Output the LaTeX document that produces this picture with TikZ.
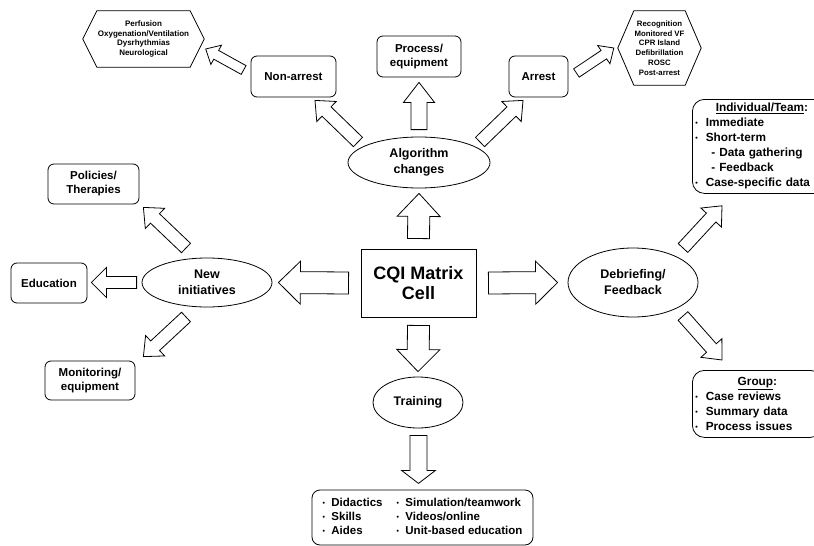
\documentclass[tikz,border=0pt]{standalone}
\usepackage{fontspec}
\usepackage{graphicx}
\setmainfont{Liberation Sans}
\usetikzlibrary{shapes.geometric,calc}

\newcommand{\fsz}[2]{\fontsize{#1}{#2}\selectfont\bfseries}
\newcommand{\bul}{\raisebox{0.2ex}{\scalebox{0.6}{\textbullet}}\ \ }
% hollow block arrow: tail, tip, shaft half width, head half width, head length
\newcommand{\blockarr}[5]{%
  \coordinate (hb) at ($(#2)!#5!(#1)$);
  \draw[blk] ($(#1)!#3!90:(#2)$) -- ($(hb)!#3!90:(#2)$) -- ($(hb)!#4!90:(#2)$) -- (#2)
    -- ($(hb)!#4!-90:(#2)$) -- ($(hb)!#3!-90:(#2)$) -- ($(#1)!#3!-90:(#2)$) -- cycle;
}

\begin{document}
\begin{tikzpicture}[x=1pt,y=-1pt,
  blk/.style={draw,fill=white,line width=0.8pt},
  cell/.style={draw,line width=0.9pt,inner sep=0pt,minimum width=115pt,minimum height=68pt,align=center,font=\fsz{18}{20}},
  oval/.style={ellipse,draw,line width=0.8pt,inner sep=0pt,align=center,font=\fsz{12.5}{16.5}},
  rbox/.style={draw,rounded corners=6pt,line width=0.8pt,inner sep=0pt,align=center,font=\fsz{11.5}{14}},
  lbox/.style={draw,rounded corners=12pt,line width=0.8pt,inner xsep=3pt,inner ysep=4pt,font=\fsz{11.8}{15}},
  hexnode/.style={inner sep=0pt,align=center,font=\fsz{8}{9.5}}]
\useasboundingbox (0,0) rectangle (814,546);

% centre and ovals
\node[cell] (cqi) at (418.5,283) {CQI Matrix\\Cell};
\node[oval,minimum width=142pt,minimum height=51pt] (alg) at (419,162.5) {Algorithm\\changes};
\node[oval,minimum width=130pt,minimum height=49pt] (newi) at (207,282.5) {New\\initiatives};
\node[oval,minimum width=130pt,minimum height=69pt,font=\fsz{12.5}{16}] (debr) at (633,282.5) {Debriefing/\\Feedback};
\node[oval,minimum width=90pt,minimum height=51pt] (trng) at (418,402.5) {Training};

% boxes
\node[rbox,minimum width=84pt,minimum height=41pt] (proc) at (419,56.5) {Process/\\equipment};
\node[rbox,minimum width=85pt,minimum height=41pt] (nonarr) at (293.5,76.5) {Non-arrest};
\node[rbox,minimum width=59pt,minimum height=41pt] (arr) at (538.5,76.5) {Arrest};
\node[rbox,minimum width=91pt,minimum height=40pt] (pol) at (93.5,184) {Policies/\\Therapies};
\node[rbox,minimum width=76pt,minimum height=40pt] (edu) at (49,283) {Education};
\node[rbox,minimum width=90pt,minimum height=39pt] (mon) at (90,380.5) {Monitoring/\\equipment};
\node[rbox,rounded corners=8pt,minimum width=221pt,minimum height=55pt] (tools) at (422.5,517.5)
  {\begin{tabular}{@{}p{74pt}@{}l@{}}
   \bul Didactics & \bul Simulation/teamwork\\
   \bul Skills & \bul Videos/online\\
   \bul Aides & \bul Unit-based education
   \end{tabular}};
\node[lbox,text width=133pt,minimum height=94pt,anchor=north west] (indv) at (692,99)
  {{\centering\underline{Individual/Team}:\par}\bul Immediate\\\bul Short-term\\
   \hspace*{16pt}- Data gathering\\\hspace*{16pt}- Feedback\\\bul Case-specific data};
\node[lbox,text width=124pt,minimum height=67pt,anchor=north west] (grp) at (692,370)
  {{\centering\underline{Group}:\par}\bul Case reviews\\\bul Summary data\\\bul Process issues};

% hexagons
\node[hexnode,minimum width=121pt,minimum height=56pt] (hexl) at (143.5,39)
  {Perfusion\\Oxygenation/Ventilation\\Dysrhythmias\\Neurological};
\draw[line width=0.8pt] (hexl.west) -- ($(hexl.north west)+(14,0)$) -- ($(hexl.north east)+(-14,0)$)
  -- (hexl.east) -- ($(hexl.south east)+(-14,0)$) -- ($(hexl.south west)+(14,0)$) -- cycle;
\node[hexnode,font=\fsz{7.8}{9.8},minimum width=83pt,minimum height=74pt] (hexr) at (659.5,48)
  {Recognition\\Monitored VF\\CPR Island\\Defibrillation\\ROSC\\Post-arrest};
\draw[line width=0.8pt] (hexr.west) -- ($(hexr.north west)+(16,0)$) -- ($(hexr.north east)+(-16,0)$)
  -- (hexr.east) -- ($(hexr.south east)+(-16,0)$) -- ($(hexr.south west)+(16,0)$) -- cycle;

% arrow ends
\coordinate (p1a) at ($(cqi.north)+(0,-10)$);  \coordinate (p1b) at ($(alg.south)+(0,5)$);
\coordinate (p2a) at ($(cqi.east)+(12,0)$);    \coordinate (p2b) at ($(debr.west)+(-10,0)$);
\coordinate (p3a) at ($(cqi.west)+(-12,0)$);   \coordinate (p3b) at ($(newi.east)+(6,0)$);
\coordinate (p4a) at ($(cqi.south)+(0,8)$);    \coordinate (p4b) at ($(trng.north)+(0,-5)$);
\coordinate (p5a) at ($(alg.north)+(0,-7)$);   \coordinate (p5b) at ($(proc.south)+(0,5)$);
\coordinate (p6a) at ($(alg)+(-61,-20.5)$);    \coordinate (p6b) at ($(nonarr.south)+(21.5,3)$);
\coordinate (p7a) at ($(alg)+(61,-20.5)$);     \coordinate (p7b) at ($(arr.south)+(-15.5,3)$);
\coordinate (p8a) at ($(nonarr.west)+(-7,-6.5)$); \coordinate (p8b) at ($(hexl.east)+(1.5,10)$);
\coordinate (p9a) at ($(arr.east)+(8,-3.5)$);  \coordinate (p9b) at ($(hexr.west)+(-4,0)$);
\coordinate (p10a) at ($(newi)+(-21,-34.5)$);  \coordinate (p10b) at ($(pol.south east)+(4,3)$);
\coordinate (p11a) at ($(newi.west)+(-5,0)$);  \coordinate (p11b) at ($(edu.east)+(4,-0.5)$);
\coordinate (p12a) at ($(newi)+(-21,34.5)$);   \coordinate (p12b) at ($(mon.north east)+(8,-4)$);
\coordinate (p13a) at ($(debr)+(50,-34.5)$);   \coordinate (p13b) at ($(indv.south west)+(30,12)$);
\coordinate (p14a) at ($(debr)+(50,33.5)$);    \coordinate (p14b) at ($(grp.north west)+(30,-10)$);
\coordinate (p15a) at ($(trng.south)+(0.5,7)$); \coordinate (p15b) at ($(trng.south)+(0.5,55)$);

% block arrows
\blockarr{p1a}{p1b}{11pt}{21.5pt}{23pt}
\blockarr{p2a}{p2b}{11pt}{21.5pt}{22pt}
\blockarr{p3a}{p3b}{11pt}{21.5pt}{22pt}
\blockarr{p4a}{p4b}{11pt}{21.5pt}{22pt}
\blockarr{p5a}{p5b}{8pt}{15.5pt}{20pt}
\blockarr{p6a}{p6b}{6.5pt}{14pt}{16pt}
\blockarr{p7a}{p7b}{6.5pt}{14pt}{16pt}
\blockarr{p8a}{p8b}{5pt}{11pt}{12pt}
\blockarr{p9a}{p9b}{5pt}{11pt}{12pt}
\blockarr{p10a}{p10b}{6.5pt}{14pt}{16pt}
\blockarr{p11a}{p11b}{6pt}{15pt}{15pt}
\blockarr{p12a}{p12b}{6.5pt}{14pt}{16pt}
\blockarr{p13a}{p13b}{6.5pt}{14pt}{16pt}
\blockarr{p14a}{p14b}{6.5pt}{14pt}{16pt}
\blockarr{p15a}{p15b}{8.5pt}{17pt}{13pt}
\end{tikzpicture}
\end{document}
